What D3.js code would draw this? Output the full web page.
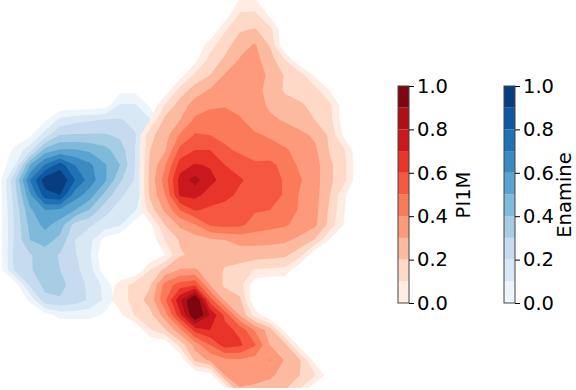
<!DOCTYPE html>
<html>
<head>
<meta charset="utf-8">
<script src="https://cdn.jsdelivr.net/npm/d3@7"></script>
<style>
    html, body { margin: 0; padding: 0; background: #fff; }
    svg { display: block; }
</style>
</head>
<body>
<div id="chart"></div>
<script>
// Colourbar values and band colours
var tickValues = [0, 0.2, 0.4, 0.6, 0.8, 1];
var bandEdges = [0, 0.1, 0.2, 0.3, 0.4, 0.5, 0.6, 0.7, 0.8, 0.9, 1];
var redBands = ["#ffede4", "#fed9c8", "#fcbba1", "#fc9a7b", "#fb7a5a", "#f65740", "#e83429", "#cb181d", "#ad1117", "#7e0610"];
var blueBands = ["#edf5fc", "#d9e8f5", "#c6dbef", "#a6cde4", "#7fbadb", "#5ba3d0", "#3b8bc2", "#2171b5", "#0d58a1", "#083d7e"];

// Density, in band units (1 = lightest band edge)
var enamineDensity = [
    [0, 0, 0, 0, 0, 0, 0, 0, 0.7, 0.7, 0, 0],
    [0, 0, 0, 0, 0.2, 0.2, 0.2, 0.4, 2.1, 2.1, 0.8, 0],
    [0, 0, 0, 0.8, 2.3, 2.7, 2.9, 3.1, 3.1, 2.7, 2.1, 0],
    [0, 0, 0.8, 2.5, 4.0, 4.1, 4.1, 4.1, 3.8, 3.1, 1.5, 0],
    [0, 1.3, 2.6, 5.4, 6.1, 6.1, 5.8, 5.3, 4.5, 3.0, 1.5, 0],
    [0.2, 2.0, 6.0, 8.1, 9.5, 8.0, 7.2, 6.1, 5.0, 3.0, 1.5, 0],
    [0.7, 3.9, 8.0, 10.6, 11.0, 9.0, 7.5, 6.2, 4.2, 2.9, 1.5, 0],
    [0.7, 3.6, 6.8, 9.6, 10.0, 7.5, 6.5, 4.7, 3.2, 2.4, 1.2, 0],
    [0.7, 3.3, 5.8, 7.0, 6.8, 6.0, 4.9, 3.3, 2.6, 2.1, 0.8, 0],
    [0.7, 3.2, 5.3, 6.3, 5.5, 3.6, 3.1, 2.6, 2.1, 0.4, 0, 0],
    [0.7, 3.2, 5.0, 5.4, 4.7, 3.0, 2.3, 0.6, 0, 0, 0, 0],
    [0.7, 3.4, 3.9, 4.5, 3.9, 3.1, 2.1, 0, 0, 0, 0, 0],
    [0.6, 3.2, 3.9, 4.5, 4.0, 3.3, 2.4, 0.3, 0, 0, 0, 0],
    [0, 0.4, 3.2, 4.3, 4.3, 3.6, 2.7, 1.7, 0, 0, 0, 0],
    [0, 0, 1.2, 3.7, 3.9, 3.6, 2.8, 1.8, 0.3, 0, 0, 0],
    [0, 0, 0, 0.6, 1.4, 1.4, 1.4, 0.8, 0, 0, 0, 0],
    [0, 0, 0, 0, 0, 0, 0, 0, 0, 0, 0, 0]
];

var pi1mDensity = [
    [0, 0, 0, 0, 0, 0, 0, 0, 0, 0, 0, 0, 0, 0, 0, 0, 0, 0],
    [0, 0, 0, 0, 0, 0, 0, 0, 0, 1.1, 1.1, 0, 0, 0, 0, 0, 0, 0],
    [0, 0, 0, 0, 0, 0, 0, 0, 0.4, 2.2, 2.3, 0.8, 0, 0, 0, 0, 0, 0],
    [0, 0, 0, 0, 0, 0, 0, 0, 1.9, 2.9, 3.1, 2.4, 0, 0, 0, 0, 0, 0],
    [0, 0, 0, 0, 0, 0, 0, 1.6, 2.6, 3.6, 4.1, 2.9, 0, 0, 0, 0, 0, 0],
    [0, 0, 0, 0, 0, 0, 0.7, 2.4, 3.2, 4.1, 4.3, 3.5, 2.0, 0, 0, 0, 0, 0],
    [0, 0, 0, 0, 0, 0.5, 2.2, 3.0, 4.1, 4.5, 4.5, 3.8, 2.9, 2.5, 0.8, 0, 0, 0],
    [0, 0, 0, 0, 0.3, 2.4, 3.5, 4.1, 4.6, 4.7, 4.5, 3.5, 2.9, 2.7, 2.4, 0.9, 0, 0],
    [0, 0, 0, 0, 2.1, 3.5, 4.4, 4.8, 4.9, 4.7, 4.5, 3.8, 3.3, 3.1, 2.8, 2.2, 0.2, 0],
    [0, 0, 0, 1.0, 3.3, 4.0, 5.2, 5.5, 5.5, 5.1, 4.6, 4.2, 3.9, 3.4, 3.0, 2.3, 0.3, 0],
    [0, 0, 0, 2.7, 3.6, 5.1, 6.1, 6.0, 5.7, 5.4, 5.1, 4.9, 4.6, 4.3, 3.8, 2.8, 0.6, 0],
    [0, 0, 0, 3.0, 3.9, 6.3, 7.0, 7.0, 6.2, 5.8, 5.4, 5.3, 5.1, 4.7, 4.2, 2.9, 2.0, 0],
    [0, 0, 0, 3.2, 4.9, 7.5, 8.1, 7.9, 7.0, 6.6, 6.2, 6.3, 5.6, 4.8, 4.4, 3.2, 2.2, 0],
    [0, 0, 0, 3.3, 5.5, 8.4, 9.4, 8.3, 7.6, 7.1, 6.7, 6.4, 5.9, 5.1, 4.4, 3.2, 2.2, 0],
    [0, 0, 0, 3.2, 5.0, 8.2, 8.3, 7.6, 7.3, 6.8, 6.5, 6.4, 5.9, 4.9, 4.4, 3.0, 1.1, 0],
    [0, 0, 0, 2.5, 4.2, 6.0, 7.1, 6.8, 6.6, 6.4, 6.1, 6.0, 5.9, 4.8, 4.3, 2.8, 1.0, 0],
    [0, 0, 0, 0.7, 3.0, 4.2, 4.9, 6.1, 6.3, 6.2, 5.6, 5.3, 5.1, 4.7, 4.2, 2.6, 0.8, 0],
    [0, 0, 0, 0.2, 2.0, 3.1, 3.5, 3.8, 4.0, 4.3, 4.3, 4.3, 4.2, 3.7, 2.9, 0.9, 0, 0],
    [0, 0, 0, 0, 1.0, 2.9, 3.2, 3.4, 3.4, 3.5, 3.5, 3.4, 3.2, 2.4, 0, 0, 0, 0],
    [0, 0, 0, 2.0, 3.3, 4.1, 4.1, 3.6, 2.9, 2.6, 1.9, 1.8, 1.7, 0, 0, 0, 0, 0],
    [0.2, 1.4, 2.5, 2.9, 5.4, 6.5, 6.9, 4.0, 2.8, 2.4, 0.3, 0, 0, 0, 0, 0, 0, 0],
    [0.7, 1.4, 2.5, 3.4, 5.8, 8.8, 11.5, 6.5, 3.8, 3.2, 0, 0, 0, 0, 0, 0, 0, 0],
    [0, 0.8, 2.1, 2.7, 4.5, 7.7, 11.3, 9.0, 6.7, 3.9, 1.6, 0, 0, 0, 0, 0, 0, 0],
    [0, 0, 0, 1.9, 2.9, 4.7, 7.4, 8.0, 7.4, 6.7, 4.9, 3.5, 0.6, 0, 0, 0, 0, 0],
    [0, 0, 0, 0, 0, 2.4, 4.4, 6.0, 7.5, 7.2, 6.1, 4.0, 3.3, 0.5, 0, 0, 0, 0],
    [0, 0, 0, 0, 0, 0, 3.3, 4.2, 4.7, 4.9, 4.6, 5.05, 3.9, 3.1, 0.6, 0, 0, 0],
    [0, 0, 0, 0, 0, 0, 0, 0.5, 4.1, 4.4, 4.3, 4.2, 3.6, 3.0, 2.1, 0.3, 0, 0],
    [0, 0, 0, 0, 0, 0, 0, 0, 0.6, 3.9, 3.8, 3.5, 3.0, 1.9, 0, 0, 0, 0],
    [0, 0, 0, 0, 0, 0, 0, 0, 0, 0, 0, 0, 0, 0, 0, 0, 0, 0]
];

function init() {
    var w = 576;
    var h = 390;

    var svg = d3.select("#chart")
        .append("svg")
        .attr("width", w)
        .attr("height", h);

    // The plot stops just short of the bottom edge
    svg.append("clipPath")
        .attr("id", "plotClip")
        .append("rect")
        .attr("x", 0)
        .attr("y", 0)
        .attr("width", 380)
        .attr("height", 388);

    var plot = svg.append("g").attr("clip-path", "url(#plotClip)");

    // Grid index to pixel scales, one node every 15px
    var blueX = d3.scaleLinear().domain([0, 11]).range([0, 165]);
    var blueY = d3.scaleLinear().domain([0, 16]).range([90, 330]);
    var redX = d3.scaleLinear().domain([0, 17]).range([105, 360]);
    var redY = d3.scaleLinear().domain([0, 28]).range([-15, 405]);

    drawDensity(plot, enamineDensity, blueX, blueY, blueBands);
    drawDensity(plot, pi1mDensity, redX, redY, redBands);

    drawColorbar(svg, redBands, 398, "PI1M", 470);
    drawColorbar(svg, blueBands, 504, "Enamine", 571);
}

// Filled contour bands, lightest first, so darker ones sit on top
function drawDensity(parent, grid, xScale, yScale, colors) {
    var rows = grid.length;
    var cols = grid[0].length;
    var values = d3.merge(grid);

    var contours = d3.contours()
        .size([cols, rows])
        .thresholds(d3.range(1, colors.length + 1))(values);

    // d3.contours puts node i at i + 0.5
    var path = d3.geoPath(d3.geoTransform({
        point: function(x, y) {
            this.stream.point(xScale(x - 0.5), yScale(y - 0.5));
        }
    }));

    parent.append("g")
        .selectAll("path")
        .data(contours)
        .enter()
        .append("path")
        .attr("d", path)
        .attr("fill", function(d, i) {
            return colors[i];
        });
}

function drawColorbar(svg, colors, x, label, labelX) {
    var barWidth = 11;
    var yScale = d3.scaleLinear().domain([0, 1]).range([303, 86]);

    var bar = svg.append("g");

    bar.selectAll("rect")
        .data(colors)
        .enter()
        .append("rect")
        .attr("x", x)
        .attr("y", function(d, i) {
            return yScale(bandEdges[i + 1]);
        })
        .attr("width", barWidth)
        .attr("height", function(d, i) {
            return yScale(bandEdges[i]) - yScale(bandEdges[i + 1]);
        })
        .attr("fill", function(d) {
            return d;
        });

    // Outline around the bar
    bar.append("rect")
        .attr("x", x)
        .attr("y", yScale(1))
        .attr("width", barWidth)
        .attr("height", yScale(0) - yScale(1))
        .attr("fill", "none")
        .attr("stroke", "#444")
        .attr("stroke-width", 1);

    var axis = d3.axisRight(yScale)
        .tickValues(tickValues)
        .tickSize(5)
        .tickPadding(3)
        .tickSizeOuter(0)
        .tickFormat(d3.format(".1f"));

    var axisG = svg.append("g")
        .attr("transform", "translate(" + (x + barWidth) + ",0)")
        .call(axis);

    axisG.select(".domain").remove();
    axisG.selectAll("text")
        .attr("font-family", "DejaVu Sans")
        .attr("font-size", 19.5)
        .attr("fill", "#000");

    // labelX is the text baseline
    svg.append("text")
        .attr("transform", "translate(" + labelX + ",195) rotate(-90)")
        .attr("text-anchor", "middle")
        .attr("font-family", "DejaVu Sans")
        .attr("font-size", 19.5)
        .attr("fill", "#000")
        .text(label);
}

window.onload = init;
</script>
</body>
</html>
